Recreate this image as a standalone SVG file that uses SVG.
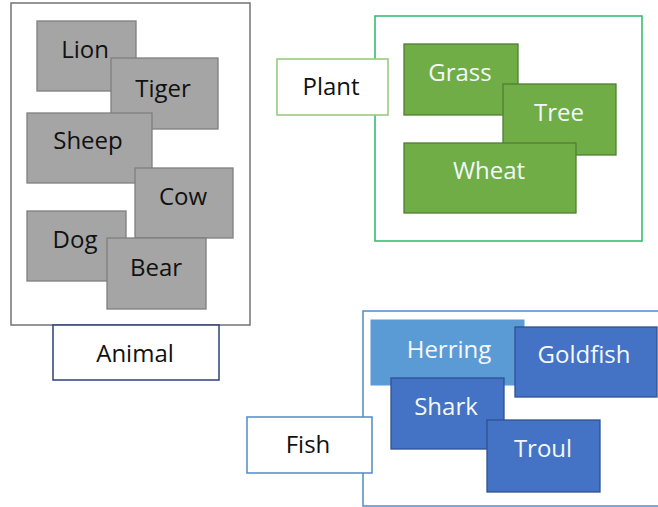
<svg xmlns="http://www.w3.org/2000/svg" width="658" height="507" viewBox="0 0 658 507">
<style>
text{font-family:"Open Sans","Liberation Sans",sans-serif;font-size:24px;text-anchor:middle}
.gray rect{fill:#A5A5A5;stroke:#7F7F7F;stroke-width:1.3}
.gray text{fill:#111}
.green rect{fill:#70AD47;stroke:#507E32;stroke-width:1.3}
.green text,.blue text,.lblue text{fill:#F4F8FC}
.blue rect{fill:#4472C4;stroke:#2F528F;stroke-width:1.3}
.lblue rect{fill:#5B9BD5;stroke:#5B9BD5;stroke-width:1}
.label rect{fill:#fff;stroke-width:1.5}
.label text{fill:#111}
.frame{fill:#fff;stroke-width:1.5}
</style>
<g id="animal-group">
<rect class="frame" x="11" y="3" width="239" height="322" stroke="#767171"/>
<g id="lion" class="gray"><rect x="37" y="21" width="99" height="70"/><text x="85" y="58">Lion</text></g>
<g id="tiger" class="gray"><rect x="111" y="58" width="107" height="71"/><text x="163" y="97">Tiger</text></g>
<g id="sheep" class="gray"><rect x="27" y="113" width="125" height="70"/><text x="88" y="149">Sheep</text></g>
<g id="cow" class="gray"><rect x="135" y="168" width="98" height="70"/><text x="183" y="205">Cow</text></g>
<g id="dog" class="gray"><rect x="27" y="211" width="99" height="70"/><text x="75" y="248">Dog</text></g>
<g id="bear" class="gray"><rect x="107" y="238" width="99" height="71"/><text x="156" y="276">Bear</text></g>
<g id="animal" class="label"><rect x="53" y="325" width="166" height="55" stroke="#2F3F7A"/><text x="135" y="362">Animal</text></g>
</g>
<g id="plant-group">
<rect class="frame" x="375" y="16" width="267" height="225" stroke="#2DB86A"/>
<g id="plant" class="label"><rect x="277" y="59" width="111" height="56" stroke="#92C87A"/><text x="331" y="95">Plant</text></g>
<g id="grass" class="green"><rect x="404" y="44" width="114" height="71"/><text x="460" y="81">Grass</text></g>
<g id="tree" class="green"><rect x="503" y="84" width="113" height="71"/><text x="559" y="121">Tree</text></g>
<g id="wheat" class="green"><rect x="404" y="143" width="172" height="70"/><text x="489" y="179">Wheat</text></g>
</g>
<g id="fish-group">
<rect class="frame" x="363" y="311" width="310" height="195" stroke="#4F8ACB"/>
<g id="fish" class="label"><rect x="247" y="417" width="125" height="56" stroke="#4F8ACB"/><text x="308" y="453">Fish</text></g>
<g id="herring" class="lblue"><rect x="371" y="320" width="153" height="65"/><text x="449" y="358">Herring</text></g>
<g id="goldfish" class="blue"><rect x="515" y="327" width="142" height="70"/><text x="584" y="363">Goldfish</text></g>
<g id="shark" class="blue"><rect x="391" y="378" width="113" height="71"/><text x="446" y="415">Shark</text></g>
<g id="troul" class="blue"><rect x="487" y="420" width="113" height="72"/><text x="543" y="457">Troul</text></g>
</g>
<g id="connectors"/>
</svg>
